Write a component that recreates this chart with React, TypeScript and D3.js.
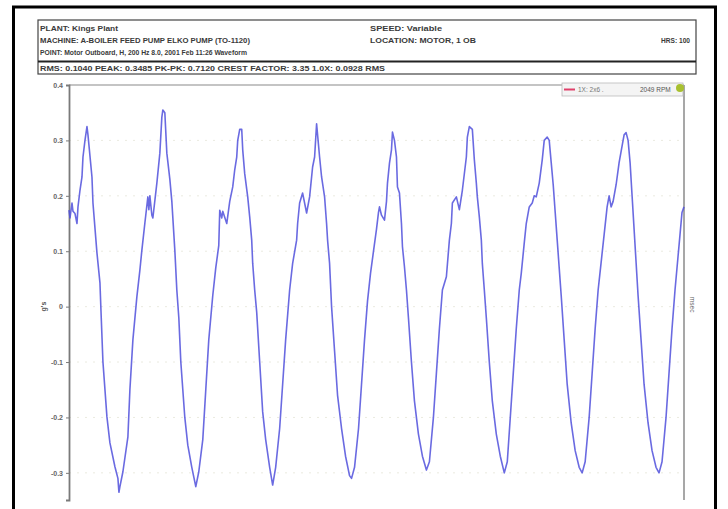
import { useRef, useEffect } from "react";
import * as d3 from "d3";

// header lines (left column, right column)
const headerLeft = [
  "PLANT: Kings Plant",
  "MACHINE: A-BOILER FEED PUMP ELKO PUMP   (TO-1120)",
  "POINT: Motor Outboard, H, 200 Hz 8.0, 2001 Feb 11:26 Waveform",
];
const headerRight = ["SPEED: Variable", "LOCATION: MOTOR, 1 OB"];
const headerFar = "HRS: 100";
const statsLine = "RMS: 0.1040   PEAK: 0.3485   PK-PK: 0.7120   CREST FACTOR: 3.35   1.0X: 0.0928 RMS";

const yTicks = [0.4, 0.3, 0.2, 0.1, 0, -0.1, -0.2, -0.3];
const yTickLabels = ["0.4", "0.3", "0.2", "0.1", "0", "-0.1", "-0.2", "-0.3"];

// time in ms
const timeMs = [
  0, 0.5, 1.5, 2, 3, 4, 4.5, 5.5, 6.5, 7, 8, 9, 9.5, 11.5, 12, 14, 15.5, 16, 17, 19, 20.5, 23, 24.5, 25, 25.5,
  27, 29.5, 30.5, 32, 34, 35.5, 36.5, 38, 39.5, 40, 40.5, 41.5, 42, 44, 45.5, 46.5, 47, 48, 49, 50.5, 51.5, 53,
  54, 55, 56, 58, 59.5, 61.5, 63.5, 65, 67, 68.5, 70, 72, 73.5, 75, 75.5, 76.5, 77, 79, 80.5, 82, 83, 84, 84.5,
  85.5, 86.5, 87, 88, 89.5, 90.5, 91.5, 92, 93, 94, 95.5, 97, 98.5, 100.5, 102, 103.5, 105.5, 107, 108.5, 110.5,
  112, 114, 114.5, 115.5, 117, 119, 120.5, 122, 123, 124, 125.5, 126.5, 128, 129, 129.5, 130.5, 131.5, 133,
  134.5, 136.5, 138.5, 140.5, 141.5, 143, 145, 146.5, 148, 149.5, 151, 152.5, 154, 155, 155.5, 156.5, 158, 159,
  159.5, 160.5, 161.5, 162, 163, 164, 164.5, 165.5, 166.5, 167, 168, 169, 170, 171.5, 173, 175, 177, 179, 180.5,
  182.5, 184, 185.5, 187, 189, 190.5, 191.5, 192, 194, 195.5, 197, 199, 199.5, 200.5, 202, 203, 204, 204.5,
  205.5, 206.5, 207, 208, 209, 210.5, 212, 214, 216, 218, 219.5, 221, 222.5, 224, 225.5, 226.5, 228, 229, 230.5,
  232, 233, 234, 235.5, 237, 238, 239.5, 240.5, 241.5, 242.5, 243.5, 244.5, 245.5, 246.5, 248, 249.5, 251.5,
  253.5, 255.5, 257, 258.5, 260.5, 262, 263.5, 265, 266.5, 268, 269.5, 270.5, 271.5, 272.5, 274, 275.5, 277, 278,
  279, 280, 281, 282, 283, 284, 285, 286.5, 288, 290, 292, 294, 295.5, 297, 299, 300.5, 302, 303.5, 305, 306, 307,
  308,
];

// acceleration in g's
const accelG = [
  0.174, 0.16, 0.187, 0.172, 0.168, 0.15, 0.18, 0.21, 0.234, 0.27, 0.3, 0.325, 0.31, 0.234, 0.187, 0.097, 0.043,
  -0.006, -0.1, -0.199, -0.246, -0.289, -0.31, -0.335, -0.325,
  -0.298, -0.235, -0.15, -0.06, 0.018, 0.066, 0.102, 0.151, 0.198, 0.175, 0.2, 0.165, 0.16, 0.223, 0.277, 0.342,
  0.355, 0.35, 0.277, 0.23, 0.19, 0.102,
  0.03, -0.02, -0.1, -0.2, -0.25, -0.29, -0.325, -0.298, -0.24, -0.15, -0.06, 0.02, 0.07, 0.11, 0.174, 0.16,
  0.172, 0.15, 0.19, 0.216, 0.247, 0.27, 0.3,
  0.32, 0.32, 0.283, 0.24, 0.198, 0.162, 0.12, 0.078, 0.03, -0.01, -0.1, -0.19, -0.24, -0.29, -0.322, -0.29,
  -0.22, -0.14, -0.06, 0.03,
  0.078, 0.12, 0.15, 0.187, 0.205, 0.169, 0.198, 0.252, 0.27, 0.33, 0.27, 0.234, 0.198, 0.15, 0.12, 0.078, 0.0,
  -0.08,
  -0.16, -0.22, -0.27, -0.305, -0.31, -0.29, -0.22, -0.14, -0.06, 0.01, 0.06, 0.1, 0.14, 0.17, 0.18, 0.165,
  0.156, 0.19,
  0.223, 0.259, 0.283, 0.315, 0.3, 0.27, 0.216, 0.205, 0.15, 0.108, 0.072, 0.03, -0.02, -0.1, -0.17, -0.23,
  -0.27, -0.295, -0.28,
  -0.2, -0.12, -0.04, 0.03, 0.054, 0.12, 0.15, 0.187, 0.198, 0.175, 0.21, 0.27, 0.306, 0.325, 0.32, 0.265,
  0.223, 0.198,
  0.162, 0.12, 0.078, 0.03, -0.02, -0.1, -0.17, -0.23, -0.27, -0.3, -0.28, -0.2, -0.12, -0.04, 0.03, 0.06, 0.115,
  0.15, 0.18,
  0.187, 0.2, 0.198, 0.223, 0.265, 0.3, 0.306, 0.3, 0.26, 0.22, 0.17, 0.12, 0.07, 0.02, -0.06, -0.14, -0.21,
  -0.26, -0.29, -0.3, -0.28, -0.2, -0.12, -0.04, 0.03, 0.08, 0.13, 0.18, 0.2, 0.18, 0.19, 0.22, 0.26, 0.29, 0.31,
  0.314, 0.3, 0.26, 0.2, 0.14, 0.08, 0.02, -0.06, -0.14, -0.21, -0.26, -0.29, -0.3, -0.28, -0.2, -0.12, -0.04,
  0.03, 0.09, 0.13, 0.17,
  0.18,
];

const legendLabels = ["1X: 2x6 .   ", "2049 RPM"];

export default function App() {
  const svgRef = useRef<SVGSVGElement | null>(null);

  useEffect(() => {
    if (!svgRef.current) return;
    const width = 728;
    const height = 509;
    const svg = d3.select(svgRef.current);
    svg.attr("viewBox", `0 0 ${width} ${height}`);
    svg.selectAll("*").remove();

    const font = "'Liberation Sans', Arial, sans-serif";

    svg.append("rect").attr("width", width).attr("height", height).attr("fill", "#fff");

    // outer frame
    svg
      .append("rect")
      .attr("x", 13.5)
      .attr("y", 7)
      .attr("width", 702)
      .attr("height", 520)
      .attr("fill", "none")
      .attr("stroke", "#000")
      .attr("stroke-width", 3);

    // header box
    const hb = { x: 38, y: 20, w: 658, h: 54 };
    svg
      .append("rect")
      .attr("x", hb.x)
      .attr("y", hb.y)
      .attr("width", hb.w)
      .attr("height", hb.h)
      .attr("fill", "none")
      .attr("stroke", "#444")
      .attr("stroke-width", 1.2);
    svg
      .append("line")
      .attr("x1", hb.x)
      .attr("x2", hb.x + hb.w)
      .attr("y1", 61.5)
      .attr("y2", 61.5)
      .attr("stroke", "#222")
      .attr("stroke-width", 2);

    const headerText = (txt: string, x: number, y: number, len: number, anchor = "start") =>
      svg
        .append("text")
        .attr("x", x)
        .attr("y", y)
        .attr("text-anchor", anchor)
        .attr("font-family", font)
        .attr("font-size", "7.5px")
        .attr("font-weight", "bold")
        .attr("fill", "#3a3a3a")
        .attr("textLength", len)
        .attr("lengthAdjust", "spacingAndGlyphs")
        .text(txt);

    const leftLens = [78, 210, 207];
    headerLeft.forEach((t, i) => headerText(t, 40, 31 + i * 12, leftLens[i]));
    const rightLens = [72, 106];
    headerRight.forEach((t, i) => headerText(t, 370, 31 + i * 12, rightLens[i]));
    headerText(headerFar, 661, 43, 29);
    headerText(statsLine, 40, 71, 345);

    // plot
    const margin = { top: 85, left: 69, right: 684, bottom: 500 };
    const x = d3.scaleLinear().domain([0, 308]).range([margin.left, margin.right]);
    const y = d3.scaleLinear().domain([-0.349, 0.4]).range([margin.bottom, margin.top]);

    // faint grid
    svg
      .append("g")
      .selectAll("line")
      .data(yTicks.slice(1))
      .enter()
      .append("line")
      .attr("x1", margin.left)
      .attr("x2", margin.right)
      .attr("y1", (d) => y(d))
      .attr("y2", (d) => y(d))
      .attr("stroke", "#e4e4d8")
      .attr("stroke-width", 0.8)
      .attr("stroke-dasharray", "2,6");

    // top & right border
    svg
      .append("line")
      .attr("x1", margin.left)
      .attr("x2", margin.right)
      .attr("y1", margin.top)
      .attr("y2", margin.top)
      .attr("stroke", "#8a8a8a")
      .attr("stroke-width", 1.2);
    svg
      .append("line")
      .attr("x1", margin.right)
      .attr("x2", margin.right)
      .attr("y1", margin.top)
      .attr("y2", margin.bottom)
      .attr("stroke", "#8a8a8a")
      .attr("stroke-width", 1.5);

    // y axis
    const yAxis = svg
      .append("g")
      .attr("transform", `translate(${margin.left},0)`)
      .call(
        d3
          .axisLeft(y)
          .tickValues(yTicks)
          .tickSize(3)
          .tickFormat((_, i) => yTickLabels[i])
      );
    yAxis.select(".domain").attr("stroke", "#7a7a7a").attr("stroke-width", 1.8);
    yAxis.selectAll(".tick line").attr("stroke", "#7a7a7a");
    yAxis
      .selectAll("text")
      .attr("font-family", font)
      .attr("font-size", "7px")
      .attr("font-weight", "bold")
      .attr("fill", "#666");

    svg
      .append("text")
      .attr("transform", `translate(46,${y(0)}) rotate(-90)`)
      .attr("text-anchor", "middle")
      .attr("font-family", font)
      .attr("font-size", "7px")
      .attr("font-weight", "bold")
      .attr("fill", "#555")
      .text("g's");

    svg
      .append("text")
      .attr("transform", `translate(690,${y(0) - 2}) rotate(90)`)
      .attr("text-anchor", "middle")
      .attr("font-family", font)
      .attr("font-size", "6.5px")
      .attr("fill", "#666")
      .text("msec");

    // waveform
    const pts = timeMs.map((t, i) => [t, accelG[i]] as [number, number]);
    const line = d3
      .line<[number, number]>()
      .x((d) => x(d[0]))
      .y((d) => y(d[1]));
    svg
      .append("path")
      .attr("d", line(pts))
      .attr("fill", "none")
      .attr("stroke", "#5050dc")
      .attr("stroke-width", 1.6)
      .attr("stroke-opacity", 0.85)
      .attr("stroke-linejoin", "round");

    // legend
    const lg = svg.append("g");
    lg.append("rect")
      .attr("x", 562)
      .attr("y", 83)
      .attr("width", 121)
      .attr("height", 13)
      .attr("fill", "#f4f4f4")
      .attr("stroke", "#bbb")
      .attr("stroke-width", 0.8);
    lg.append("line")
      .attr("x1", 564)
      .attr("x2", 575)
      .attr("y1", 89.5)
      .attr("y2", 89.5)
      .attr("stroke", "#e0406a")
      .attr("stroke-width", 2);
    lg.append("text")
      .attr("x", 578)
      .attr("y", 92)
      .attr("font-family", font)
      .attr("font-size", "6.5px")
      .attr("fill", "#777")
      .text(legendLabels[0]);
    lg.append("text")
      .attr("x", 640)
      .attr("y", 92)
      .attr("font-family", font)
      .attr("font-size", "6.5px")
      .attr("fill", "#555")
      .text(legendLabels[1]);
    lg.append("circle").attr("cx", 680).attr("cy", 88).attr("r", 4).attr("fill", "#a8c030");
  }, []);

  return (
    <div style={{ position: "fixed", left: 0, top: 0, width: 728, height: 509 }}>
      <svg ref={svgRef} width={728} height={509} style={{ display: "block" }} />
    </div>
  );
}
